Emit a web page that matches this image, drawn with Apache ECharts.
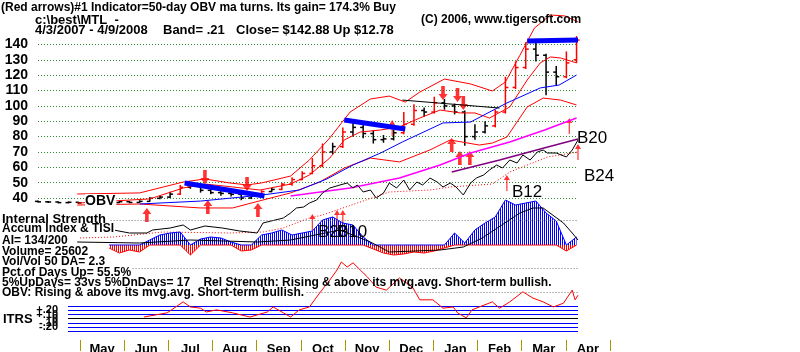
<!DOCTYPE html>
<html>
<head>
<meta charset="utf-8">
<script src="https://cdn.jsdelivr.net/npm/echarts@6/dist/echarts.min.js"></script>
<style>
  html, body { margin: 0; padding: 0; background: #fff; }
  #chart { width: 800px; height: 352px; }
</style>
</head>
<body>
<div id="chart"></div>
<script>
// weekly price bars, one per week from 4/3/2007
var wkOpen = [37.8, 37.5, 37.4, 37.0, 37.2, 36.8, 36.5, 36.6, 37.0, 37.6, 37.1, 37.8, 39.8, 40.6, 42.5, 47.0, 48.5, 45.0, 43.5, 43.0, 42.4, 40.0, 41.2, 44.2, 45.6, 49.0, 52.0, 56.0, 61.0, 70.0, 73.5, 83.0, 86.0, 82.0, 78.0, 78.5, 82.5, 88.0, 97.0, 96.0, 102.0, 100.0, 96.0, 80.0, 83.0, 87.0, 96.0, 112.0, 125.0, 137.0, 133.0, 122.0, 119.0, 130.1]
var wkClose = [37.5, 37.4, 37.0, 37.2, 36.8, 36.5, 36.6, 37.0, 37.6, 37.1, 37.8, 39.8, 40.6, 42.5, 47.0, 48.5, 45.0, 43.5, 43.0, 42.4, 40.0, 41.2, 44.2, 45.6, 49.0, 52.0, 56.0, 61.0, 70.0, 73.5, 83.0, 86.0, 82.0, 78.0, 78.5, 82.5, 88.0, 97.0, 96.0, 102.0, 100.0, 96.0, 80.0, 83.0, 87.0, 96.0, 112.0, 125.0, 137.0, 133.0, 122.0, 119.0, 128.0, 142.88]
var wkHigh = [38.3, 38.0, 37.8, 37.8, 37.5, 37.2, 37.2, 37.6, 38.2, 38.0, 38.5, 40.5, 41.5, 44.0, 48.5, 50.2, 48.8, 46.0, 44.5, 44.0, 43.0, 42.0, 45.0, 46.5, 50.0, 53.5, 57.5, 66.0, 75.5, 76.0, 86.0, 90.5, 88.0, 84.0, 81.0, 84.5, 96.0, 101.0, 99.0, 106.0, 104.5, 101.5, 97.0, 88.0, 90.0, 97.5, 119.0, 129.0, 141.5, 141.0, 134.0, 126.0, 135.5, 145.5]
var wkLow = [37.0, 36.8, 36.5, 36.5, 36.2, 36.0, 36.0, 36.3, 36.7, 36.6, 36.9, 37.6, 39.2, 40.0, 42.0, 46.0, 43.5, 42.5, 41.5, 41.0, 38.5, 39.3, 40.8, 43.8, 45.0, 48.0, 51.5, 55.5, 60.0, 68.5, 72.5, 80.0, 79.0, 75.5, 76.0, 77.5, 81.5, 87.0, 93.0, 95.0, 97.5, 94.5, 74.0, 78.0, 82.0, 86.0, 95.0, 111.0, 124.0, 129.0, 107.0, 113.0, 118.0, 128.0]

// accumulation index, weekly (same weeks as the bars)
var accumIdx = [null, null, null, null, null, null, null, -3, -8, -5, -7, 5, 10, 12, 13, -10, 6, 8, 7, 3, -6, -5, 10, 12, 15, 10, 12, 14, 25, 28, 22, 20, 8, -4, -8, -10, -9, -7, -8, -6, -3, 12, 2, 15, 22, 28, 45, 40, 42, 44, 32, 24, -6, 8]

// lines: [day since 4/3/2007, value]
var upperBand = [[27, 42.6], [70, 43.3], [100, 50.4], [115, 52.4], [132, 49.8], [144, 48.5], [154, 49.8], [174, 54.3], [187, 64.8], [201, 79.1], [215, 96], [229, 104.5], [242, 106.4], [253, 102.5], [263, 109], [280, 117.5], [298, 114.3], [313, 109.7], [322, 115.6], [332, 133], [342, 150.7], [353, 159.2], [363, 158.6], [372, 154.7]]
var ma21 = [[27, 36.7], [77, 39.4], [100, 46.5], [115, 49.1], [134, 47.2], [153, 45.2], [174, 49.1], [187, 55], [201, 66], [211, 77.8], [222, 83], [236, 84.3], [249, 86.3], [263, 92.1], [277, 97.3], [291, 95.4], [301, 95.4], [311, 92.1], [325, 99.3], [337, 116.9], [346, 128], [353, 131.9], [360, 131.2], [371, 128]]
var lowerBand = [[27, 35.4], [70, 36.1], [91, 34.8], [112, 33.5], [134, 33.5], [155, 38.7], [174, 43.3], [194, 50.4], [211, 59.5], [229, 66], [249, 63.5], [270, 71.3], [284, 77.8], [304, 74.5], [313, 75.8], [323, 79.7], [337, 99.3], [348, 105.1], [360, 103.8], [371, 100.6]]
var ma50 = [[70, 36.1], [112, 38], [155, 42], [180, 45.2], [199, 52.4], [217, 61.5], [236, 69.3], [251, 76.5], [279, 88.9], [298, 89.5], [323, 101.9], [346, 111.7], [359, 113.6], [371, 120.1]]
var resistLine = [[251, 103.8], [318, 98.6]]
var trendA = [[101, 49.8], [156, 41.3]]
var trendB = [[211, 90.8], [253, 85]]
var trendC = [[337, 142.3], [372, 143]]
var upArrows = [[75, 29], [117, 34.1], [151.5, 32.2], [285, 74.5], [290.6, 66], [297.5, 66]]
var downArrows = [[115, 53.7], [144, 49.1], [279, 108.4], [289, 107.1], [293, 101.9]]
var thinArrows = [[189, 24.4], [206, 27], [210, 27], [244, 85.6], [323, 49.8], [366, 86.9], [372, 70]]

// OBV panel (relative units)
var obv = [[27, 18], [52, 20], [63, 17], [75, 17], [79, 20], [91, 22], [100, 25], [105, 20], [115, 24], [127, 22], [139, 19], [151, 17], [155, 27], [169, 32], [174, 37], [178, 42], [183, 43], [187, 47], [192, 50], [196, 57], [201, 62], [208, 65], [213, 67], [217, 62], [220, 65], [224, 58], [229, 60], [233, 52], [238, 57], [242, 67], [247, 62], [252, 70], [256, 60], [261, 68], [265, 65], [270, 72], [275, 68], [279, 63], [284, 67], [288, 63], [293, 55], [298, 67], [302, 72], [307, 75], [311, 80], [316, 85], [320, 82], [325, 90], [330, 87], [334, 95], [339, 90], [344, 98], [348, 100], [351, 97], [357, 97], [364, 93], [368, 100], [372, 110]]
var obvMa = [[29, 12], [52, 13], [86, 18], [132, 17], [155, 18], [169, 22], [187, 32], [196, 35], [220, 47], [242, 58], [270, 60], [284, 63], [313, 66], [325, 78], [351, 93], [372, 98]]
var magentaLine = [[174, 54], [215, 62], [249, 72], [277, 85], [298, 97], [325, 108], [349, 120], [371, 132]]
var purpleLine = [[285, 78], [318, 90], [346, 101], [372, 111]]
var tisi = [[27, 3], [70, 2], [105, 5], [151, 3], [174, 5], [208, 15], [229, 3], [242, -7], [277, -5], [293, -2], [306, 7], [332, 32], [341, 37], [348, 37], [362, 22], [368, 12], [372, 5]]

// relative strength vs ITRS
var relStr = [[73, 0.04], [89, 0.14], [100, 0.40], [105, 0.28], [112, 0.25], [116, 0.16], [123, 0.21], [134, 0.14], [146, 0.04], [158, 0.16], [162, 0.28], [169, 0.14], [174, 0.04], [180, 0.21], [187, 0.28], [194, 0.61], [201, 0.92], [206, 1.16], [209, 1.35], [213, 1.23], [217, 1.33], [222, 1.16], [227, 0.99], [233, 0.75], [240, 0.68], [249, 0.97], [258, 0.75], [263, 0.45], [272, 0.45], [279, 0.25], [286, 0.28], [289, 0.14], [295, 0.02], [299, 0.21], [304, 0.28], [313, 0.40], [318, 0.25], [325, 0.40], [334, 0.64], [341, 0.49], [348, 0.40], [355, 0.28], [362, 0.37], [368, 0.68], [370, 0.45], [372, 0.56]]

var months = ['May', 'Jun', 'Jul', 'Aug', 'Sep', 'Oct', 'Nov', 'Dec', 'Jan', 'Feb', 'Mar', 'Apr']

var FONT = '"Liberation Sans", Arial, sans-serif'

function stripes (col) {
  var cv = document.createElement('canvas')
  cv.width = 2
  cv.height = 4
  var g = cv.getContext('2d')
  g.fillStyle = col
  g.fillRect(0, 0, 1, 4)
  return { image: cv, repeat: 'repeat' }
}

function label (x, y, s, size, bold, bg) {
  return {
    type: 'text', x: x, y: y, z: 100,
    style: {
      text: s, fill: '#000', verticalAlign: 'middle',
      font: (bold ? 'bold ' : '') + size + 'px ' + FONT,
      backgroundColor: bg ? '#fff' : null, padding: bg ? [0, 1, 0, 0] : 0
    }
  }
}

function lineSeries (data, color, width, grid, extra) {
  var s = {
    type: 'line', data: data, xAxisIndex: grid, yAxisIndex: grid,
    symbol: 'none', silent: true, clip: false,
    lineStyle: { color: color, width: width }
  }
  return Object.assign(s, extra || {})
}

var ARROW = 'path://M5,0 L10,6 L7,6 L7,14 L3,14 L3,6 L0,6 Z'
var THIN = 'path://M3,0 L6,5 L3.6,5 L3.6,16 L2.4,16 L2.4,5 L0,5 Z'

var barData = wkClose.map(function (c, i) { return [i * 7, wkOpen[i], c, wkLow[i], wkHigh[i]] })
var aiUp = accumIdx.map(function (v, i) { return [i * 7, v == null ? null : Math.max(v, 0)] })
var aiDn = accumIdx.map(function (v, i) { return [i * 7, v == null ? null : Math.min(v, 0)] })

var chart = echarts.init(document.getElementById('chart'), null, { renderer: 'canvas' })

var greenGrid = ['transparent', 'transparent']
for (var k = 0; k < 11; k++) greenGrid.push('#2e8b2e')

var plainX = function (i) {
  return { type: 'value', gridIndex: i, min: 0, max: 372, show: false }
}

var dotted = { color: '#777', type: [1, 2], width: 1 }

var option = {
  animation: false,
  backgroundColor: '#fff',
  grid: [
    { left: 38, width: 540, top: 44.5, height: 184.2, outerBoundsMode: 'none' },
    { left: 38, width: 540, top: 44, height: 206, outerBoundsMode: 'none' },
    { left: 38, width: 540, top: 195, height: 75, outerBoundsMode: 'none' },
    { left: 38, width: 540, top: 255.7, height: 79.8, outerBoundsMode: 'none' },
    { left: 68, width: 510, top: 306.1, height: 25.2, outerBoundsMode: 'none' },
    { left: 80, width: 530, top: 339, height: 1, outerBoundsMode: 'none' }
  ],
  xAxis: [
    plainX(0), plainX(1), plainX(2), plainX(3),
    { type: 'value', gridIndex: 4, min: 0, max: 1, show: false },
    {
      type: 'category', gridIndex: 5, data: months, boundaryGap: true,
      axisLine: { show: false },
      axisTick: { show: true, length: 11, lineStyle: { color: '#a89a00', width: 1 } },
      axisLabel: { margin: 3, color: '#000', fontSize: 13, fontWeight: 'bold', fontFamily: FONT }
    }
  ],
  yAxis: [
    {
      type: 'value', gridIndex: 0, min: 20, max: 140, interval: 10,
      axisLine: { show: false }, axisTick: { show: false },
      axisLabel: {
        margin: 10, color: '#000', fontSize: 14, fontWeight: 'bold', fontFamily: FONT,
        formatter: function (v) { return v < 40 ? '' : String(v) }
      },
      splitLine: { show: true, lineStyle: { color: greenGrid, type: [1, 2], width: 1 } }
    },
    { type: 'value', gridIndex: 1, min: 0, max: 206, show: false },
    { type: 'value', gridIndex: 2, min: -25, max: 50, show: false },
    { type: 'value', gridIndex: 3, min: -0.4, max: 1.5, show: false },
    {
      type: 'value', gridIndex: 4, min: -0.3, max: 0.3, interval: 0.1,
      axisLine: { show: false }, axisTick: { show: false },
      axisLabel: {
        margin: 10, color: '#000', fontSize: 11, fontWeight: 'bold', fontFamily: FONT,
        formatter: function (v) {
          if (Math.abs(v) < 0.001) return '0'
          return (v > 0 ? '+' : '-') + Math.abs(v).toFixed(2).slice(1)
        }
      },
      splitLine: {
        show: true,
        lineStyle: { color: ['#0000ff', '#0000ff', '#0000ff', '#000000', '#0000ff', '#0000ff', '#0000ff'], width: 1.2 }
      }
    },
    { type: 'value', gridIndex: 5, show: false }
  ],
  series: [
    // bands and averages
    lineSeries(upperBand, '#ff0000', 1, 0),
    lineSeries(ma21, '#ff0000', 1, 0),
    lineSeries(lowerBand, '#ff0000', 1, 0),
    lineSeries(ma50, '#0000ff', 1, 0),
    lineSeries(resistLine, '#000000', 1, 0),
    // OBV block
    lineSeries(magentaLine, '#ff00ff', 1.5, 1),
    lineSeries(purpleLine, '#800080', 1.5, 1),
    lineSeries(obvMa, '#ff0000', 1, 1, { lineStyle: { color: '#ff0000', width: 1, type: [1, 2] } }),
    lineSeries(obv, '#000000', 1, 1),
    // price bars
    {
      type: 'custom', xAxisIndex: 0, yAxisIndex: 0, data: barData, silent: true, clip: false,
      encode: { x: 0, y: [1, 2, 3, 4] },
      renderItem: function (params, api) {
        var x = api.value(0)
        var op = api.value(1)
        var cl = api.value(2)
        var o = api.coord([x, op])
        var c = api.coord([x, cl])
        var l = api.coord([x, api.value(3)])
        var h = api.coord([x, api.value(4)])
        var col = (cl - op) > op * 0.06 ? '#ff0000' : '#000000'
        var st = { stroke: col, lineWidth: 1.5 }
        return {
          type: 'group',
          children: [
            { type: 'line', shape: { x1: h[0], y1: h[1], x2: l[0], y2: l[1] }, style: st },
            { type: 'line', shape: { x1: o[0] - 3, y1: o[1], x2: o[0], y2: o[1] }, style: st },
            { type: 'line', shape: { x1: c[0], y1: c[1], x2: c[0] + 3, y2: c[1] }, style: st }
          ]
        }
      }
    },
    // trend lines
    lineSeries(trendA, '#0000ff', 5, 0),
    lineSeries(trendB, '#0000ff', 5, 0),
    lineSeries(trendC, '#0000ff', 5, 0),
    // arrows
    {
      type: 'scatter', xAxisIndex: 0, yAxisIndex: 0, data: upArrows, silent: true, clip: false,
      symbol: ARROW, symbolSize: [9, 14], itemStyle: { color: '#ff0000' }
    },
    {
      type: 'scatter', xAxisIndex: 0, yAxisIndex: 0, data: downArrows, silent: true, clip: false,
      symbol: ARROW, symbolSize: [9, 14], symbolRotate: 180, itemStyle: { color: '#ff0000' }
    },
    {
      type: 'scatter', xAxisIndex: 0, yAxisIndex: 0, data: thinArrows, silent: true, clip: false,
      symbol: THIN, symbolSize: [6, 16], itemStyle: { color: '#ff0000' }
    },
    // accumulation index histogram
    lineSeries(aiUp, '#0000ff', 1, 2, {
      areaStyle: { color: stripes('#0000ff'), opacity: 1 },
      markLine: {
        silent: true, symbol: 'none', label: { show: false }, lineStyle: dotted,
        data: [
          [{ coord: [50, 25] }, { coord: [372, 25] }],
          [{ coord: [61, -23] }, { coord: [372, -23] }]
        ]
      }
    }),
    lineSeries(aiDn, '#ff0000', 1, 2, { areaStyle: { color: stripes('#ff0000'), opacity: 1 } }),
    lineSeries(tisi, '#000000', 1, 2),
    // relative strength
    lineSeries(relStr, '#ff0000', 1, 3, {
      markLine: {
        silent: true, symbol: 'none', label: { show: false }, lineStyle: dotted,
        data: [[{ coord: [61, 0.636] }, { coord: [372, 0.636] }]]
      }
    })
  ],
  graphic: [
    label(1, 8, '(Red arrows)#1 Indicator=50-day OBV ma turns. Its gain= 174.3% Buy', 12, true),
    label(35, 20, 'c:\\best\\MTL  -', 13, true),
    label(35, 30, '4/3/2007 - 4/9/2008', 13, true),
    label(163, 30, 'Band= .21', 13, true),
    label(236, 30, 'Close= $142.88', 13, true),
    label(333, 30, 'Up $12.78', 13, true),
    label(421, 20, '(C) 2006, www.tigersoft.com', 12, true),
    label(85, 201, 'OBV', 14, true, true),
    label(577, 138, 'B20', 17, false),
    label(584, 176, 'B24', 17, false),
    label(512, 192, 'B12', 17, false),
    label(318, 232, 'B20', 17, false),
    label(337, 232, 'B10', 17, false),
    label(2, 219, 'Internal Strength', 13, true, true),
    label(2, 229, 'Accum Index & TISI', 12, true, true),
    label(2, 241, 'AI= 134/200', 12, true, true),
    label(2, 252, 'Volume= 25602', 12, true, true),
    label(2, 262, 'Vol/Vol 50 DA= 2.3', 12, true, true),
    label(2, 273, 'Pct.of Days Up= 55.5%', 12, true, true),
    label(2, 283, '5%UpDays= 33vs 5%DnDays= 17    Rel Strength: Rising & above its mvg.avg. Short-term bullish.', 12, true, false),
    label(2, 293, 'OBV: Rising & above its mvg.avg. Short-term bullish.', 12, true, true),
    label(3, 319, 'ITRS', 13, true)
  ]
}

chart.setOption(option)
</script>
</body>
</html>
